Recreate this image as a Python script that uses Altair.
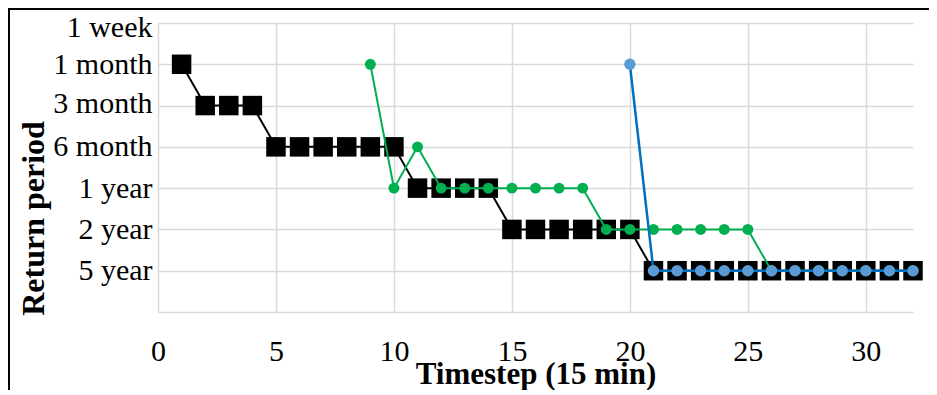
import altair as alt
import pandas as pd

levels = ["1 week", "1 month", "3 month", "6 month", "1 year", "2 year", "5 year", ""]

black_x = list(range(1, 33))
black_y = ["1 month",
           "3 month", "3 month", "3 month",
           "6 month", "6 month", "6 month", "6 month", "6 month", "6 month",
           "1 year", "1 year", "1 year", "1 year",
           "2 year", "2 year", "2 year", "2 year", "2 year", "2 year",
           "5 year", "5 year", "5 year", "5 year", "5 year", "5 year",
           "5 year", "5 year", "5 year", "5 year", "5 year", "5 year"]

green_x = list(range(9, 33))
green_y = ["1 month", "1 year", "6 month",
           "1 year", "1 year", "1 year", "1 year", "1 year", "1 year", "1 year",
           "2 year", "2 year", "2 year", "2 year", "2 year", "2 year", "2 year",
           "5 year", "5 year", "5 year", "5 year", "5 year", "5 year", "5 year"]

blue_x = list(range(20, 33))
blue_y = ["1 month",
          "5 year", "5 year", "5 year", "5 year", "5 year", "5 year",
          "5 year", "5 year", "5 year", "5 year", "5 year", "5 year"]

x_ticks = [0, 5, 10, 15, 20, 25, 30]


def frame(xs, ys):
    return pd.DataFrame({"t": xs, "rp": [levels.index(v) for v in ys], "label": ys})


dfb = frame(black_x, black_y)
dfg = frame(green_x, green_y)
dfc = frame(blue_x, blue_y)

label_expr = "[" + ",".join("'" + l + "'" for l in levels) + "][datum.value]"

xenc = alt.X("t:Q", scale=alt.Scale(domain=[0, 32], nice=False, zero=True),
             axis=alt.Axis(values=x_ticks, title="Timestep (15 min)", grid=True,
                           domain=False, ticks=False, tickSize=0, labelPadding=48,
                           labelBaseline="alphabetic", labelFontSize=30, labelFlush=False,
                           labelOverlap=False,
                           titleFontSize=31, titleFontWeight="bold",
                           titleBaseline="alphabetic", titleY=71))
yenc = alt.Y("rp:Q", scale=alt.Scale(domain=[0, 7], reverse=True, nice=False, zero=False),
             axis=alt.Axis(values=list(range(8)), labelExpr=label_expr,
                           title="Return period", grid=True, domain=False, ticks=False,
                           tickSize=0, labelPadding=6, labelFontSize=30, labelFlush=False,
                           labelOverlap=False,
                           labelOffset={"condition": [
                               {"test": "datum.value == 0", "value": 4},
                               {"test": "datum.value == 2", "value": -2}],
                               "value": 0},
                           titleFontSize=32, titleFontWeight="bold",
                           titleBaseline="alphabetic", titleX=-115, titleY=195,
                           titleAlign="center"))

border = alt.Chart(alt.Data(values=[{"a": 1}])).mark_rect(
    fill="transparent", stroke="black", strokeWidth=2
).encode(x=alt.value(-149), y=alt.value(-14), x2=alt.value(900), y2=alt.value(500))

b_line = alt.Chart(dfb).mark_line(color="black", strokeWidth=2).encode(x=xenc, y=yenc)
b_pts = alt.Chart(dfb).mark_point(shape="square", filled=True, size=380, color="black",
                                  opacity=1).encode(x="t:Q", y="rp:Q")
g_line = alt.Chart(dfg).mark_line(color="#00B050", strokeWidth=2).encode(x="t:Q", y="rp:Q")
g_pts = alt.Chart(dfg).mark_point(shape="circle", filled=True, size=120, color="#00B050",
                                  opacity=1).encode(x="t:Q", y="rp:Q")
c_line = alt.Chart(dfc).mark_line(color="#0070C0", strokeWidth=2.5).encode(x="t:Q", y="rp:Q")
c_pts = alt.Chart(dfc).mark_point(shape="circle", filled=True, size=130, color="#5B9BD5",
                                  opacity=1).encode(x="t:Q", y="rp:Q")

chart = alt.layer(b_line, b_pts, g_line, g_pts, c_line, c_pts, border).properties(
    width=755, height=289,
    autosize=alt.AutoSizeParams(type="none"),
    padding={"left": 150, "top": 15, "right": 16, "bottom": 78},
).configure_view(stroke=None).configure_axis(
    labelFont="Liberation Serif", titleFont="Liberation Serif",
    labelColor="black", titleColor="black",
    gridColor="#D9D9D9", gridWidth=1.5, gridOpacity=1,
)

chart.save("out.html", embed_options={"renderer": "svg", "actions": False})
